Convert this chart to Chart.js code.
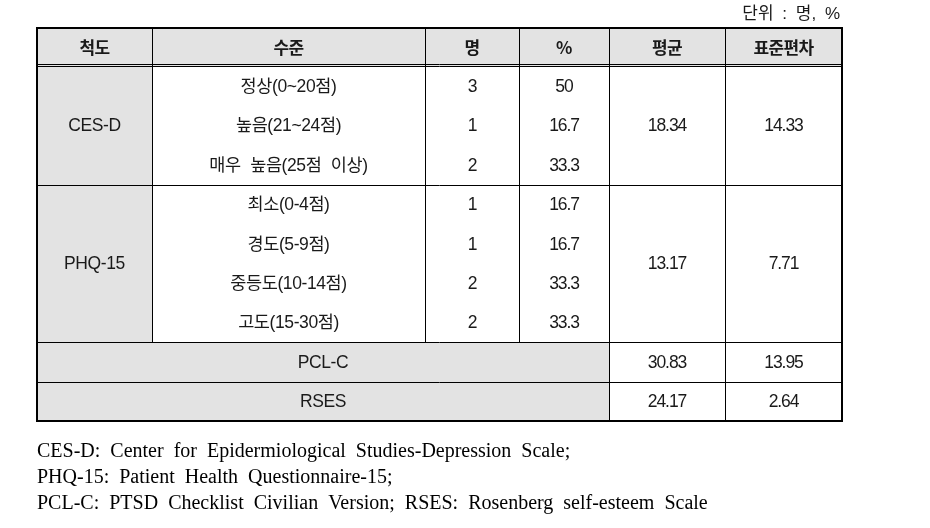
<!DOCTYPE html>
<html><head><meta charset="utf-8">
<script src="https://cdn.jsdelivr.net/npm/chart.js@4.4.1/dist/chart.umd.min.js"></script>
<style>html,body{margin:0;padding:0;background:#fff}#wrap{width:930px;height:528px}</style>
</head><body><div id="wrap"><canvas id="c"></canvas></div>
<script>
// ---- data ----
const headers = ['척도', '수준', '명', '%', '평균', '표준편차'];
const measures = ['CES-D', 'PHQ-15', 'PCL-C', 'RSES'];
const levels = ['정상(0~20점)', '높음(21~24점)', '매우 높음(25점 이상)', '최소(0-4점)', '경도(5-9점)', '중등도(10-14점)', '고도(15-30점)'];
const levelGroup = [0, 0, 0, 1, 1, 1, 1];
const counts = [3, 1, 2, 1, 1, 2, 2];
const percents = ['50', '16.7', '33.3', '16.7', '16.7', '33.3', '33.3'];
const means = ['18.34', '13.17', '30.83', '24.17'];
const sds = ['14.33', '7.71', '13.95', '2.64'];
const unitLabel = '단위 : 명, %';
const footnotes = [
  'CES-D: Center for Epidermiological Studies-Depression Scale;',
  'PHQ-15: Patient Health Questionnaire-15;',
  'PCL-C: PTSD Checklist Civilian Version; RSES: Rosenberg self-esteem Scale'
];

// ---- layout (x in px units, y in row units) ----
const colEdges = [37, 152, 425, 519, 609, 725, 842];
const footRows = [10.914, 11.574, 12.234];
const unitRow = -0.33;

const tablePlugin = {
  id: 'table',
  afterDraw(chart) {
    const ctx = chart.ctx;
    const xs = chart.scales.x, ys = chart.scales.y;
    const X = v => xs.getPixelForValue(v);
    const Y = v => ys.getPixelForValue(v);
    const L = v => Math.round(v) + 0.5;
    const cx = i => (X(colEdges[i]) + X(colEdges[i + 1])) / 2;
    const gray = '#e3e3e3';
    const nLev = levels.length;
    const groupStart = [1, 1 + levelGroup.filter(g => g === 0).length];
    const groupEnd = [groupStart[1], 1 + nLev];
    const lastRow = 1 + nLev + 2;
    ctx.save();
    // backgrounds
    ctx.fillStyle = gray;
    ctx.fillRect(X(colEdges[0]), Y(0), X(colEdges[6]) - X(colEdges[0]), Y(1) - Y(0));
    ctx.fillRect(X(colEdges[0]), Y(1), X(colEdges[1]) - X(colEdges[0]), Y(1 + nLev) - Y(1));
    ctx.fillRect(X(colEdges[0]), Y(1 + nLev), X(colEdges[4]) - X(colEdges[0]), Y(lastRow) - Y(1 + nLev));
    // inner lines
    ctx.strokeStyle = '#000';
    ctx.lineWidth = 1;
    ctx.beginPath();
    [1, 2, 3].forEach(i => { ctx.moveTo(L(X(colEdges[i])), Y(0)); ctx.lineTo(L(X(colEdges[i])), Y(1 + nLev)); });
    [4, 5].forEach(i => { ctx.moveTo(L(X(colEdges[i])), Y(0)); ctx.lineTo(L(X(colEdges[i])), Y(lastRow)); });
    [groupEnd[0], groupEnd[1], groupEnd[1] + 1].forEach(r => {
      ctx.moveTo(X(colEdges[0]), L(Y(r))); ctx.lineTo(X(colEdges[6]), L(Y(r)));
    });
    const hb = Math.round(Y(1));
    ctx.moveTo(X(colEdges[0]), hb - 1.5); ctx.lineTo(X(colEdges[6]), hb - 1.5);
    ctx.moveTo(X(colEdges[0]), hb + 0.5); ctx.lineTo(X(colEdges[6]), hb + 0.5);
    ctx.stroke();
    // outer border
    ctx.lineWidth = 2;
    ctx.strokeRect(Math.round(X(colEdges[0])), Math.round(Y(0)) + 1, Math.round(X(colEdges[6])) - Math.round(X(colEdges[0])), Math.round(Y(lastRow)) - Math.round(Y(0)) - 1);

    // text
    ctx.fillStyle = '#1a1a1a';
    ctx.textBaseline = 'middle';
    ctx.textAlign = 'center';
    ctx.wordSpacing = '5px';
    ctx.letterSpacing = '-0.6px';
    ctx.font = 'bold 17px "Noto Sans CJK KR", "Liberation Sans", sans-serif';
    headers.forEach((h, i) => ctx.fillText(h, cx(i), Y(0.5) + 1));
    const labelFont = () => { ctx.font = '17.5px "Liberation Sans", "Noto Sans CJK KR", sans-serif'; ctx.letterSpacing = '-0.4px'; };
    const numFont = () => { ctx.font = '17.5px "Liberation Sans", "Noto Sans CJK KR", sans-serif'; ctx.letterSpacing = '-1.1px'; };
    const rc = r => Y(r + 0.5) + 1;
    [0, 1].forEach(g => {
      const mid = (groupStart[g] + groupEnd[g]) / 2;
      labelFont();
      ctx.fillText(measures[g], cx(0), Y(mid) + 1);
      numFont();
      ctx.fillText(means[g], cx(4), Y(mid) + 1);
      ctx.fillText(sds[g], cx(5), Y(mid) + 1);
    });
    levels.forEach((lv, k) => {
      const r = 1 + k;
      labelFont();
      ctx.fillText(lv, cx(1), rc(r));
      numFont();
      ctx.fillText(String(counts[k]), cx(2), rc(r));
      ctx.fillText(percents[k], cx(3), rc(r));
    });
    [2, 3].forEach((m, j) => {
      const r = 1 + nLev + j;
      const mx = (X(colEdges[0]) + X(colEdges[4])) / 2;
      labelFont();
      ctx.fillText(measures[m], mx, rc(r));
      numFont();
      ctx.fillText(means[m], cx(4), rc(r));
      ctx.fillText(sds[m], cx(5), rc(r));
    });
    // unit label
    ctx.textAlign = 'right';
    ctx.letterSpacing = '0px';
    ctx.wordSpacing = '4px';
    ctx.font = '17px "Liberation Sans", "Noto Sans CJK KR", sans-serif';
    ctx.fillText(unitLabel, X(840), Y(unitRow));
    // footnotes
    ctx.textAlign = 'left';
    ctx.textBaseline = 'alphabetic';
    ctx.fillStyle = '#000';
    ctx.font = '20px "Liberation Serif", serif';
    ctx.wordSpacing = '5px';
    footnotes.forEach((f, i) => ctx.fillText(f, X(colEdges[0]), Y(footRows[i])));
    ctx.restore();
  }
};

new Chart(document.getElementById('c'), {
  type: 'scatter',
  data: { datasets: [] },
  options: {
    responsive: true,
    maintainAspectRatio: false,
    animation: false,
    layout: { padding: 0 },
    plugins: { legend: { display: false }, tooltip: { enabled: false } },
    scales: {
      x: { type: 'linear', display: false, min: 0, max: 930 },
      y: { type: 'linear', display: false, reverse: true, min: -27 / 39.4, max: (528 - 27) / 39.4 }
    }
  },
  plugins: [tablePlugin]
});
</script></body></html>
